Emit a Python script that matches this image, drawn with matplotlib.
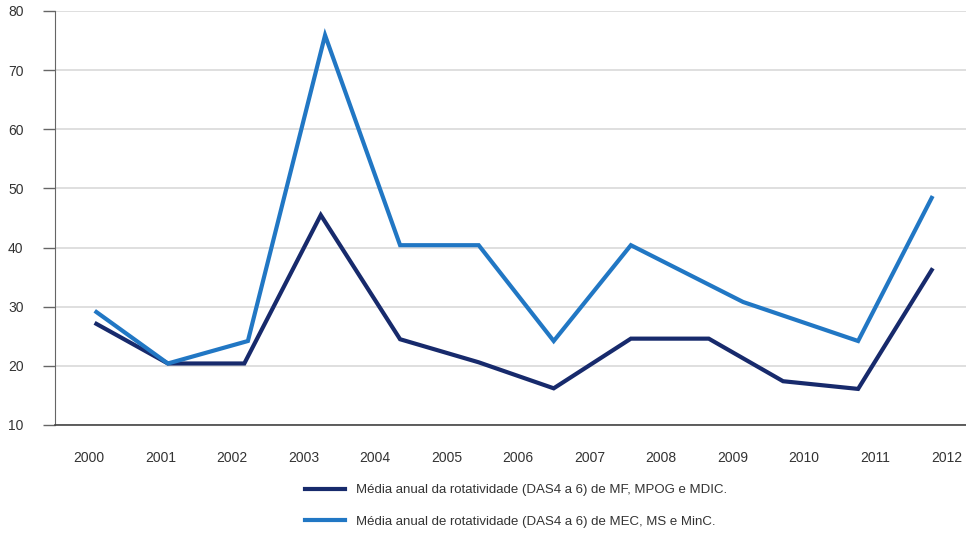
import matplotlib
matplotlib.use("Agg")
import matplotlib.pyplot as plt
from matplotlib.lines import Line2D

plt.rcParams['font.family'] = ['Liberation Sans', 'DejaVu Sans']

# Year positions of each vertex and annual averages for both groups
years = list(range(2000, 2013))
x_mf = [2000.10, 2001.10, 2002.17, 2003.24, 2004.35, 2005.45, 2006.50,
        2007.58, 2008.67, 2009.71, 2010.76, 2011.79]
media_mf = [27.1, 20.4, 20.4, 45.5, 24.5, 20.6, 16.2, 24.6, 24.6, 17.4, 16.1, 36.2]
x_mec = [2000.10, 2001.10, 2002.22, 2003.30, 2004.35, 2005.45, 2006.50,
         2007.58, 2009.15, 2010.76, 2011.79]
media_mec = [29.1, 20.4, 24.2, 75.9, 40.4, 40.4, 24.2, 40.4, 30.8, 24.2, 48.4]

labels = ["Média anual da rotatividade (DAS4 a 6) de MF, MPOG e MDIC.",
          "Média anual de rotatividade (DAS4 a 6) de MEC, MS e MinC."]
colors = ["#172a6c", "#2177c4"]

fig = plt.figure(figsize=(9.66, 5.36), dpi=100)
ax = fig.add_axes([0.0569, 0.2071, 0.9431, 0.7724])

ax.plot(x_mf, media_mf, color=colors[0], lw=3, solid_joinstyle='miter', zorder=3)
ax.plot(x_mec, media_mec, color=colors[1], lw=3, solid_joinstyle='miter', zorder=3)

ax.set_xlim(1999.52, 2012.27)
ax.set_ylim(10, 80)
ax.set_yticks(range(10, 81, 10))
ax.set_xticks(years)
ax.set_xticklabels([str(y) for y in years])

ax.grid(axis='y', color='#d9d9d9', lw=1.2)
ax.set_axisbelow(True)
for side in ['top', 'right']:
    ax.spines[side].set_visible(False)
ax.spines['left'].set_color('#666666')
ax.spines['bottom'].set_color('#444444')
ax.spines['bottom'].set_linewidth(1.2)

ax.tick_params(axis='y', length=8.6, width=1, color='#666666', pad=14,
               labelsize=10, labelcolor='#333333')
ax.tick_params(axis='x', length=0, pad=19, labelsize=10, labelcolor='#333333')

handles = [Line2D([], [], color=c, lw=3) for c in colors]
fig.legend(handles, labels, loc='center left', bbox_to_anchor=(0.3157, 0.056),
           frameon=False, fontsize=9.5, handlelength=3.0, handletextpad=0.9,
           labelspacing=1.45, borderpad=0, borderaxespad=0, labelcolor='#333333')

fig.savefig("out.png", dpi=100)
